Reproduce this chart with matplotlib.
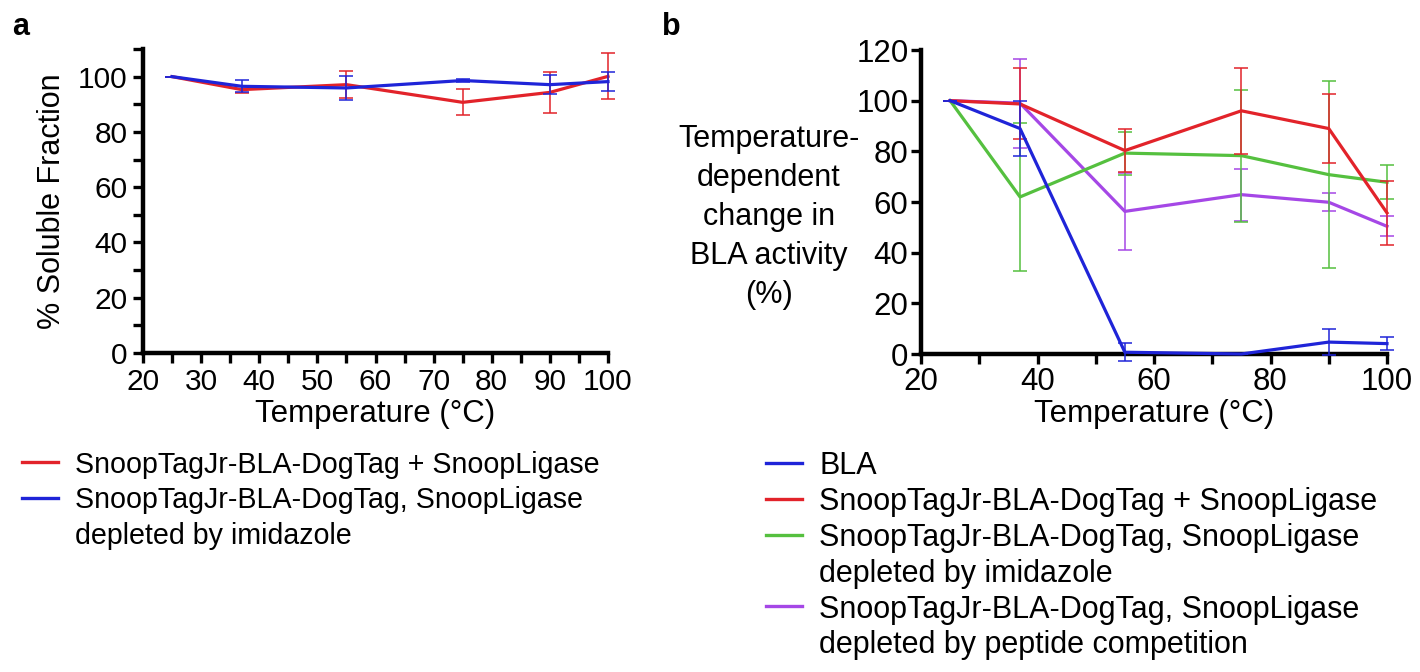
import matplotlib
matplotlib.use("Agg")
import matplotlib.pyplot as plt
import matplotlib.ticker as mticker
from matplotlib.lines import Line2D

plt.rcParams["font.family"] = ["Liberation Sans", "DejaVu Sans"]

# ── data ─────────────────────────────────────────
temps = [25, 37, 55, 75, 90, 100]

# panel a: % soluble fraction
a_ligase = [100, 95.3, 97.1, 90.7, 94.3, 100.1]
a_ligase_err = [0, 1.4, 4.8, 4.7, 7.5, 8.3]
a_imid = [100, 96.5, 95.9, 98.6, 97.1, 98.2]
a_imid_err = [0, 2.2, 4.2, 0.5, 3.5, 3.5]

# panel b: temperature-dependent change in BLA activity (%)
b_bla = [100, 89, 0.7, 0, 4.7, 4.1]
b_bla_err = [0, 11, 3.6, 0, 5, 2.5]
b_ligase = [100, 98.7, 80.3, 96, 89, 55.7]
b_ligase_err = [0, 14, 8.4, 17, 13.5, 12.7]
b_imid = [100, 62, 79.3, 78.3, 70.8, 67.8]
b_imid_err = [0, 29.3, 8.5, 26, 37, 6.8]
b_pep = [100, 99, 56.3, 62.9, 59.9, 50.4]
b_pep_err = [0, 17.5, 15.2, 10.3, 3.6, 4]

lab_bla = "BLA"
lab_ligase = "SnoopTagJr-BLA-DogTag + SnoopLigase"
lab_imid = "SnoopTagJr-BLA-DogTag, SnoopLigase\ndepleted by imidazole"
lab_pep = "SnoopTagJr-BLA-DogTag, SnoopLigase\ndepleted by peptide competition"

RED = "#e2232a"
BLUE = "#1f24d8"
GREEN = "#55c03f"
PURPLE = "#a547e6"

W, H = 1420, 672


def fy(py):
    return 1 - py / H


def style_axis(ax, tick_fs=22, pad=4):
    for side in ("top", "right"):
        ax.spines[side].set_visible(False)
    for side in ("left", "bottom"):
        ax.spines[side].set_linewidth(3.2)
        ax.spines[side].set_capstyle("projecting")
    ax.tick_params(which="both", direction="out", length=7, width=2.4,
                   labelsize=tick_fs, pad=pad)


def series(ax, y, err, color, z):
    ax.errorbar(temps, y, yerr=err, color=color, lw=2.3, elinewidth=1.1,
                capsize=5, capthick=1.1, zorder=z, clip_on=False)


def draw_key(fig, x0, y0, colors, labels, step=36, fs=21):
    row = 0
    for c, lab in zip(colors, labels):
        y = y0 + row * step
        fig.add_artist(Line2D([x0 / W, (x0 + 36) / W], [fy(y), fy(y)],
                              color=c, lw=2.4, transform=fig.transFigure))
        for i, line in enumerate(lab.split("\n")):
            fig.text((x0 + 53) / W, fy(y + i * step), line, fontsize=fs,
                     va="center_baseline", ha="left")
        row += len(lab.split("\n"))


fig = plt.figure(figsize=(W / 100, H / 100), dpi=100)

# ── panel a ──────────────────────────────────────
ax_a = fig.add_axes([143 / W, fy(353), (608 - 143) / W, (353 - 49) / H])
series(ax_a, a_ligase, a_ligase_err, RED, 3)
series(ax_a, a_imid, a_imid_err, BLUE, 4)
ax_a.set_xlim(20, 100)
ax_a.set_ylim(0, 110)
ax_a.xaxis.set_major_locator(mticker.MultipleLocator(10))
ax_a.xaxis.set_minor_locator(mticker.MultipleLocator(5))
ax_a.yaxis.set_major_locator(mticker.MultipleLocator(20))
ax_a.yaxis.set_minor_locator(mticker.MultipleLocator(10))
style_axis(ax_a, tick_fs=21.5)
ax_a.set_xlabel("Temperature (°C)", fontsize=22.5, va="center")
ax_a.xaxis.set_label_coords(0.5, (353 - 414) / 304)
ax_a.set_ylabel("% Soluble Fraction", fontsize=22, va="center")
ax_a.yaxis.set_label_coords((52 - 143) / 465, 0.5)

# ── panel b ──────────────────────────────────────
ax_b = fig.add_axes([921 / W, fy(354), (1387 - 921) / W, (354 - 50) / H])
series(ax_b, b_pep, b_pep_err, PURPLE, 3)
series(ax_b, b_imid, b_imid_err, GREEN, 4)
series(ax_b, b_ligase, b_ligase_err, RED, 5)
series(ax_b, b_bla, b_bla_err, BLUE, 6)
ax_b.set_xlim(20, 100)
ax_b.set_ylim(0, 120)
ax_b.xaxis.set_major_locator(mticker.MultipleLocator(20))
ax_b.xaxis.set_minor_locator(mticker.MultipleLocator(10))
ax_b.yaxis.set_major_locator(mticker.MultipleLocator(20))
style_axis(ax_b, tick_fs=22.5, pad=2)
ax_b.set_xlabel("Temperature (°C)", fontsize=22.5, va="center")
ax_b.xaxis.set_label_coords(0.5, (354 - 414) / 304)
ax_b.set_ylabel("Temperature-\ndependent\nchange in\nBLA activity\n(%)",
                fontsize=22, rotation=0, ha="center", va="center",
                linespacing=1.4)
ax_b.yaxis.set_label_coords((769 - 921) / 466, (354 - 217) / 304)

# ── panel letters ────────────────────────────────
fig.text(12 / W, fy(27), "a", fontsize=22, fontweight="bold", va="center")
fig.text(662 / W, fy(27), "b", fontsize=22, fontweight="bold", va="center")

# ── keys ─────────────────────────────────────────
draw_key(fig, 22, 462, [RED, BLUE], [lab_ligase, lab_imid],
         step=35.5, fs=20.6)
draw_key(fig, 766, 463, [BLUE, RED, GREEN, PURPLE],
         [lab_bla, lab_ligase, lab_imid, lab_pep], step=35.8, fs=22)

fig.savefig("out.png", dpi=100)
